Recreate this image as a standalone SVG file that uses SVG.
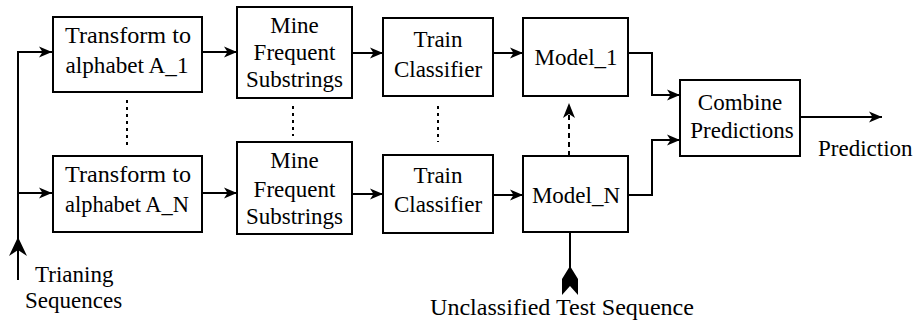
<svg xmlns="http://www.w3.org/2000/svg" width="921" height="327" viewBox="0 0 921 327">
  <style>
    .box { fill: #fff; stroke: #000; stroke-width: 2; }
    text { font-family: 'Liberation Serif', 'Times New Roman', Times, Tinos, 'Nimbus Roman', 'Noto Serif', FreeSerif, 'DejaVu Serif', serif; font-size: 23px; fill: #000; }
    .lbl { text-anchor: middle; }
    .wire { fill: none; stroke: #000; stroke-width: 2; }
    .dots { fill: none; stroke: #000; stroke-width: 2; stroke-dasharray: 3 4; }
    .dash { fill: none; stroke: #000; stroke-width: 2; stroke-dasharray: 5 4; }
  </style>
  <defs>
    <marker id="arrow" markerUnits="userSpaceOnUse" markerWidth="14" markerHeight="12" refX="13" refY="6" orient="auto">
      <path d="M0,0.5 L13,6 L0,11.5 L3.5,6 Z" fill="#000"/>
    </marker>
  </defs>
  <rect width="921" height="327" fill="#fff"/>

  <g id="connectors">
    <!-- training input trunk -->
    <path class="wire" d="M18,280 V52 H52" marker-end="url(#arrow)"/>
    <path class="wire" d="M18,193 H52" marker-end="url(#arrow)"/>
    <path d="M18,237 L27,256 L18,250 L9,256 Z" fill="#000"/>
    <!-- row 1 -->
    <path class="wire" d="M202,52 H237" marker-end="url(#arrow)"/>
    <path class="wire" d="M352,53 H383" marker-end="url(#arrow)"/>
    <path class="wire" d="M493,53 H523" marker-end="url(#arrow)"/>
    <!-- row N -->
    <path class="wire" d="M202,193 H237" marker-end="url(#arrow)"/>
    <path class="wire" d="M352,194 H383" marker-end="url(#arrow)"/>
    <path class="wire" d="M493,195 H523" marker-end="url(#arrow)"/>
    <!-- to combiner -->
    <path class="wire" d="M628,53 H652 V95 H680" marker-end="url(#arrow)"/>
    <path class="wire" d="M628,195 H652 V140 H680" marker-end="url(#arrow)"/>
    <path class="wire" d="M800,117 H882" marker-end="url(#arrow)"/>
    <!-- ellipsis between rows -->
    <path class="dots" d="M127,100 V149"/>
    <path class="dots" d="M293,106 V136"/>
    <path class="dots" d="M438,106 V142"/>
    <!-- model N feeds model 1 -->
    <path class="dash" d="M569,156 V112"/>
    <path d="M569,103 L575,118 L569,114 L563,118 Z" fill="#000"/>
    <!-- test sequence input -->
    <path class="wire" d="M570,232 V272"/>
    <path d="M570,266 L578,279 L578,295 L570,286 L562,295 L562,279 Z" fill="#000"/>
  </g>

  <g id="transform1">
    <rect class="box" x="53" y="17" width="149" height="75"/>
    <text class="lbl" x="128" y="43" textLength="126" lengthAdjust="spacingAndGlyphs">Transform to</text>
    <text class="lbl" x="127" y="73" textLength="123" lengthAdjust="spacingAndGlyphs">alphabet A_1</text>
  </g>
  <g id="mine1">
    <rect class="box" x="237" y="7" width="115" height="91"/>
    <text class="lbl" x="294.5" y="33">Mine</text>
    <text class="lbl" x="294.5" y="60">Frequent</text>
    <text class="lbl" x="294.5" y="87">Substrings</text>
  </g>
  <g id="train1">
    <rect class="box" x="383" y="18" width="110" height="78"/>
    <text class="lbl" x="438" y="47">Train</text>
    <text class="lbl" x="438" y="77">Classifier</text>
  </g>
  <g id="model1">
    <rect class="box" x="523" y="18" width="105" height="78"/>
    <text class="lbl" x="576" y="65">Model_1</text>
  </g>

  <g id="transformN">
    <rect class="box" x="53" y="156" width="149" height="76"/>
    <text class="lbl" x="128" y="182" textLength="126" lengthAdjust="spacingAndGlyphs">Transform to</text>
    <text class="lbl" x="127" y="212" textLength="124" lengthAdjust="spacingAndGlyphs">alphabet A_N</text>
  </g>
  <g id="mineN">
    <rect class="box" x="237" y="142" width="115" height="92"/>
    <text class="lbl" x="294.5" y="168">Mine</text>
    <text class="lbl" x="294.5" y="197">Frequent</text>
    <text class="lbl" x="294.5" y="224">Substrings</text>
  </g>
  <g id="trainN">
    <rect class="box" x="383" y="155" width="110" height="78"/>
    <text class="lbl" x="438" y="183">Train</text>
    <text class="lbl" x="438" y="212">Classifier</text>
  </g>
  <g id="modelN">
    <rect class="box" x="523" y="156" width="105" height="76"/>
    <text class="lbl" x="576" y="203">Model_N</text>
  </g>

  <g id="combine">
    <rect class="box" x="680" y="80" width="120" height="76"/>
    <text class="lbl" x="740" y="110">Combine</text>
    <text class="lbl" x="742" y="138">Predictions</text>
  </g>

  <g id="labels">
    <text x="818" y="156">Prediction</text>
    <text x="35" y="282">Trianing</text>
    <text x="25" y="308">Sequences</text>
    <text class="lbl" x="562" y="315" textLength="264" lengthAdjust="spacingAndGlyphs">Unclassified Test Sequence</text>
  </g>
</svg>
